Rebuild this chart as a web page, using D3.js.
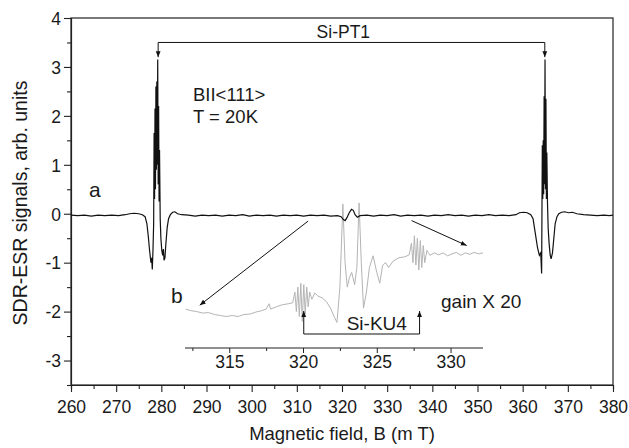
<!DOCTYPE html>
<html>
<head>
<meta charset="utf-8">
<script src="https://cdn.jsdelivr.net/npm/d3@7"></script>
<style>
  body { margin: 0; background: #fff; }
  text { font-family: "Liberation Sans", Arial, sans-serif; fill: #1a1a1a; }
</style>
</head>
<body>
<div id="chart"></div>
<script>
// main trace (a): magnetic field (mT), signal (arb. units)
const traceA = [
  [260.0,-0.03],[261.5,-0.04],[263,-0.03],[264.5,-0.05],[266,-0.03],[267.5,-0.04],[269,-0.03],
  [270.5,-0.04],[272,-0.02],[273,0.0],[274,0.01],[275,0.0],[275.8,-0.02],[276.4,-0.06],
  [276.8,-0.2],[277.1,-0.45],[277.4,-0.75],[277.7,-1.0],[277.85,-0.9],[278.0,-1.14],[278.15,-0.75],
  [278.3,-0.2],[278.4,1.65],[278.5,0.3],[278.6,2.15],[278.7,0.5],[278.8,2.6],[278.9,0.9],
  [279.0,2.7],[279.1,1.0],[279.2,3.15],[279.3,0.6],[279.4,2.2],[279.5,0.25],[279.6,1.3],
  [279.75,-0.1],[279.9,-0.5],[280.1,-0.75],[280.3,-0.85],[280.45,-0.72],[280.6,-0.95],[280.8,-0.9],
  [281.0,-0.62],[281.3,-0.28],[281.6,-0.1],[282.0,-0.02],[282.5,0.03],[283.0,0.04],[283.6,0.0],
  [284.5,-0.02],[286,-0.03],[287.5,-0.05],[289,-0.03],[290.5,-0.04],[292,-0.03],[293.5,-0.05],
  [295,-0.03],[296.5,-0.04],[298,-0.02],[299.5,-0.05],[301,-0.03],[302.5,-0.04],[304,-0.03],
  [305.5,-0.05],[307,-0.03],[308.5,-0.04],[310,-0.03],[311.5,-0.05],[313,-0.03],[314.5,-0.04],
  [316,-0.03],[317.5,-0.05],[319,-0.04],[319.8,-0.06],[320.3,-0.12],[320.7,-0.14],[321.1,-0.08],
  [321.6,0.02],[322.1,0.09],[322.5,0.07],[322.9,-0.02],[323.4,-0.07],[324,-0.04],[325.5,-0.03],
  [327,-0.05],[328.5,-0.03],[330,-0.04],[331.5,-0.02],[333,-0.05],[334.5,-0.03],[336,-0.04],
  [337.5,-0.03],[339,-0.05],[340.5,-0.03],[342,-0.04],[343.5,-0.02],[345,-0.04],[346.5,-0.03],
  [348,-0.05],[349.5,-0.03],[351,-0.04],[352.5,-0.02],[354,-0.04],[355.5,-0.03],[357,-0.04],
  [358.5,-0.02],[359.3,0.02],[360.2,0.03],[361.0,0.02],[361.8,-0.02],[362.3,-0.1],[362.8,-0.4],
  [363.3,-0.7],[363.7,-0.85],[364.0,-0.8],[364.2,-1.22],[364.35,1.4],[364.45,0.3],[364.55,1.5],
  [364.65,0.4],[364.75,2.4],[364.85,0.6],[364.95,3.15],[365.05,0.5],[365.15,2.35],[365.25,0.3],
  [365.35,1.25],[365.5,0.2],[365.65,-0.3],[365.85,-0.6],[366.1,-0.85],[366.3,-0.92],[366.6,-0.8],
  [366.9,-0.5],[367.2,-0.2],[367.6,-0.06],[368.0,0.0],[368.6,0.03],[369.3,0.04],[370.2,0.02],
  [371.0,0.03],[372,0.0],[373.5,-0.02],[375,-0.03],[376.5,-0.04],[378,-0.03],[379.2,-0.04],[380,-0.03]
];

// inset trace (b, gain x20): field on inset axis (mT), signal on main axis
const traceB = [
  [312.05,-1.95],[312.4,-1.98],[312.8,-2.0],[313.2,-2.03],[313.6,-2.02],[314.0,-2.06],[314.4,-2.08],
  [314.8,-2.1],[315.2,-2.08],[315.6,-2.1],[316.0,-2.06],[316.4,-2.05],[316.8,-2.01],[317.2,-1.98],
  [317.5,-1.95],[317.7,-1.84],[317.8,-1.95],[318.2,-1.9],[318.6,-1.86],[319.0,-1.84],[319.3,-1.82],
  [319.45,-1.6],[319.55,-2.0],[319.65,-1.5],[319.75,-2.1],[319.85,-1.42],[319.95,-2.2],[320.05,-1.45],
  [320.15,-2.05],[320.25,-1.5],[320.35,-1.9],[320.45,-1.6],[320.6,-1.75],[320.8,-1.62],[321.0,-1.68],
  [321.3,-1.72],[321.6,-1.8],[321.9,-1.95],[322.1,-2.1],[322.3,-2.22],[322.5,-1.5],[322.7,0.2],
  [322.85,-1.0],[323.0,-1.5],[323.15,-1.3],[323.3,-1.2],[323.5,-1.45],[323.65,-1.1],[323.8,0.22],
  [323.95,-1.0],[324.1,-1.93],[324.3,-1.6],[324.5,-1.1],[324.75,-0.86],[325.0,-1.2],[325.2,-1.42],
  [325.4,-1.05],[325.6,-1.0],[325.8,-1.1],[326.1,-0.97],[326.5,-0.9],[326.9,-0.88],[327.2,-0.84],
  [327.35,-0.6],[327.45,-1.0],[327.55,-0.45],[327.65,-1.05],[327.75,-0.5],[327.85,-1.15],[327.95,-0.55],
  [328.05,-1.1],[328.15,-0.65],[328.25,-1.0],[328.4,-0.75],[328.6,-0.85],[328.9,-0.8],[329.2,-0.84],
  [329.5,-0.8],[329.8,-0.86],[330.1,-0.82],[330.4,-0.79],[330.7,-0.85],[331.0,-0.8],[331.3,-0.83],
  [331.6,-0.79],[331.9,-0.82],[332.2,-0.8]
];

const xTicks = [260, 270, 280, 290, 300, 310, 320, 330, 340, 350, 360, 370, 380];
const yTicks = [-3, -2, -1, 0, 1, 2, 3, 4];
const insetTicks = [315, 320, 325, 330];

// bracket positions (main axis units / inset axis units)
const pt1Lines = [279.3, 364.9];   // Si-PT1 line positions, mT
const ku4Lines = [320.05, 327.9];  // Si-KU4 line positions, inset mT

const W = 629, H = 448;
const margin = {top: 18, right: 16, bottom: 63, left: 71};

const svg = d3.select("#chart").append("svg")
  .attr("width", W).attr("height", H);

svg.append("defs").append("marker")
  .attr("id", "head")
  .attr("viewBox", "0 0 10 10")
  .attr("refX", 10).attr("refY", 5)
  .attr("markerWidth", 6).attr("markerHeight", 6)
  .attr("markerUnits", "userSpaceOnUse")
  .attr("orient", "auto")
  .append("path").attr("d", "M0,1 L10,5 L0,9 Z").attr("fill", "#111");

const x = d3.scaleLinear().domain([260, 380]).range([margin.left, W - margin.right]);
const y = d3.scaleLinear().domain([-3.5, 4]).range([H - margin.bottom, margin.top]);
const xi = d3.scaleLinear().domain([312, 332.2]).range([185, 483]);

// frame
svg.append("rect")
  .attr("x", x(260)).attr("y", y(4))
  .attr("width", x(380) - x(260)).attr("height", y(-3.5) - y(4))
  .attr("fill", "none").attr("stroke", "#222").attr("stroke-width", 1.2);

// x axis
const gx = svg.append("g").attr("transform", `translate(0,${y(-3.5)})`);
gx.call(d3.axisBottom(x).tickValues(d3.range(260, 381, 5)).tickSize(4).tickFormat(""));
gx.call(g => g.selectAll(".tick line").filter(d => d % 10 === 0).attr("y2", 7));
gx.selectAll(".tick").filter(d => xTicks.includes(d)).append("text")
  .attr("y", 27.5).attr("text-anchor", "middle").attr("font-size", 17.5)
  .text(d => d);

// y axis
const gy = svg.append("g").attr("transform", `translate(${x(260)},0)`);
gy.call(d3.axisLeft(y).tickValues(d3.range(-3.5, 4.01, 0.5)).tickSize(4).tickFormat(""));
gy.call(g => g.selectAll(".tick line").filter(d => yTicks.includes(d)).attr("x2", -7));
gy.selectAll(".tick").filter(d => yTicks.includes(d)).append("text")
  .attr("x", -10).attr("dy", "0.36em").attr("text-anchor", "end").attr("font-size", 17.5)
  .text(d => d);

[gx, gy].forEach(g => {
  g.select(".domain").attr("stroke", "#222").attr("stroke-width", 1.2);
  g.selectAll(".tick line").attr("stroke", "#222").attr("stroke-width", 1.1);
});

svg.append("text")
  .attr("x", (x(260) + x(380)) / 2).attr("y", 440)
  .attr("text-anchor", "middle").attr("font-size", 18.5)
  .text("Magnetic field, B (m T)");

svg.append("text")
  .attr("transform", `translate(27,${(80 + 326) / 2}) rotate(-90)`)
  .attr("text-anchor", "middle").attr("font-size", 19.5)
  .text("SDR-ESR signals, arb. units");

// inset axis
const gi = svg.append("g").attr("transform", "translate(0,348)");
gi.call(d3.axisBottom(xi).tickValues(d3.range(312.5, 332.2, 2.5)).tickSize(3).tickFormat(""));
gi.call(g => g.selectAll(".tick line").filter(d => insetTicks.includes(d)).attr("y2", 5));
gi.selectAll(".tick").filter(d => insetTicks.includes(d)).append("text")
  .attr("y", 20).attr("text-anchor", "middle").attr("font-size", 17.5)
  .text(d => d);
gi.select(".domain").attr("d", `M${xi(312)},0H${xi(332.2)}`).attr("stroke", "#222").attr("stroke-width", 1.1);
gi.selectAll(".tick line").attr("stroke", "#222");

// traces
svg.append("path")
  .datum(traceB)
  .attr("fill", "none").attr("stroke", "#b4b4b4").attr("stroke-width", 1)
  .attr("d", d3.line().x(d => xi(d[0])).y(d => y(d[1])));

svg.append("path")
  .datum(traceA)
  .attr("fill", "none").attr("stroke", "#111").attr("stroke-width", 1.2)
  .attr("d", d3.line().x(d => x(d[0])).y(d => y(d[1])));

// Si-PT1 bracket
const line = (x1, y1, x2, y2, head) => {
  const l = svg.append("line")
    .attr("x1", x1).attr("y1", y1).attr("x2", x2).attr("y2", y2)
    .attr("stroke", "#111").attr("stroke-width", 1);
  if (head) l.attr("marker-end", "url(#head)");
};
line(x(pt1Lines[0]), y(3.5), x(pt1Lines[1]), y(3.5));
pt1Lines.forEach(b => line(x(b), y(3.5), x(b), y(3.2), true));
svg.append("text").attr("x", x(320.3)).attr("y", y(3.6))
  .attr("text-anchor", "middle").attr("font-size", 17.5).text("Si-PT1");

// Si-KU4 bracket
line(xi(ku4Lines[0]), 334, xi(ku4Lines[1]), 334);
ku4Lines.forEach(b => line(xi(b), 334, xi(b), 311, true));
svg.append("text").attr("x", xi(325.0)).attr("y", 330)
  .attr("text-anchor", "middle").attr("font-size", 19).text("Si-KU4");

// arrows from trace a to inset b
line(x(312.5), y(-0.15), x(288.5), y(-1.87), true);
line(x(335.4), y(-0.14), x(347.6), y(-0.65), true);

// labels
svg.append("text").attr("x", 193).attr("y", 101).attr("font-size", 18.5).text("BII<111>");
svg.append("text").attr("x", 193).attr("y", 123).attr("font-size", 18.5).text("T = 20K");
svg.append("text").attr("x", 89).attr("y", 197).attr("font-size", 21).text("a");
svg.append("text").attr("x", 171).attr("y", 303).attr("font-size", 21).text("b");
svg.append("text").attr("x", 441).attr("y", 308).attr("font-size", 19).text("gain X 20");
</script>
</body>
</html>
